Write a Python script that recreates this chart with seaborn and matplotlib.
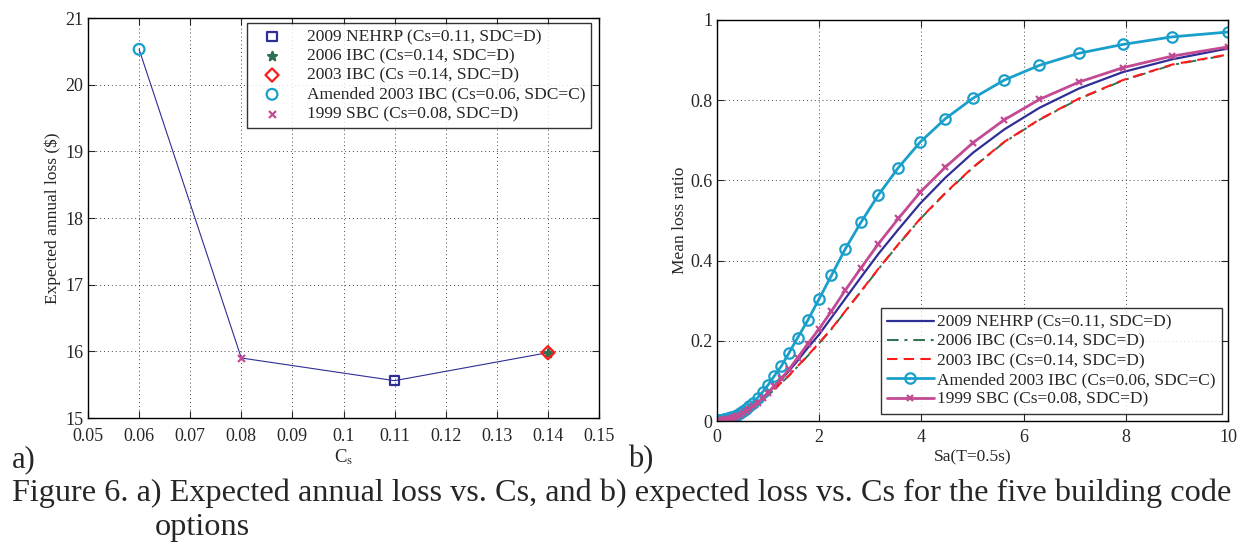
import numpy as np
import pandas as pd
import matplotlib
matplotlib.use("Agg")
import matplotlib.pyplot as plt
import seaborn as sns

# ---- data: panel a) expected annual loss vs Cs ----
codes = ["2009 NEHRP (Cs=0.11, SDC=D)", "2006 IBC (Cs=0.14, SDC=D)",
         "2003 IBC (Cs =0.14, SDC=D)", "Amended 2003 IBC (Cs=0.06, SDC=C)",
         "1999 SBC (Cs=0.08, SDC=D)"]
cs_values = [0.11, 0.14, 0.14, 0.06, 0.08]
eal_values = [15.56, 15.98, 15.98, 20.53, 15.90]
line_cs = [0.06, 0.08, 0.11, 0.14]
line_eal = [20.53, 15.90, 15.56, 15.98]

# ---- data: panel b) mean loss ratio vs Sa ----
sa = [0.01, 0.02, 0.03, 0.05, 0.07,
      0.100, 0.112, 0.126, 0.141, 0.158, 0.178, 0.200, 0.224, 0.251, 0.282,
      0.316, 0.355, 0.398, 0.447, 0.501, 0.562, 0.631, 0.708, 0.794, 0.891,
      1.00, 1.12, 1.26, 1.41, 1.58, 1.78, 2.00, 2.24, 2.51, 2.82,
      3.16, 3.55, 3.98, 4.47, 5.01, 5.62, 6.31, 7.08, 7.94, 8.91, 10.0]
mlr_nehrp = [0.0, 0.0, 0.0, 0.0, 0.0,
             0.001, 0.001, 0.001, 0.002, 0.002, 0.003, 0.003, 0.004, 0.005, 0.006,
             0.008, 0.010, 0.012, 0.015, 0.019, 0.024, 0.030, 0.037, 0.046, 0.057,
             0.071, 0.086, 0.104, 0.125, 0.151, 0.183, 0.216, 0.258, 0.305, 0.359,
             0.417, 0.478, 0.543, 0.607, 0.669, 0.727, 0.781, 0.829, 0.870, 0.902, 0.929]
mlr_ibc2006 = [0.0, 0.0, 0.0, 0.0, 0.0,
               0.001, 0.001, 0.001, 0.002, 0.002, 0.003, 0.003, 0.004, 0.005, 0.006,
               0.007, 0.009, 0.011, 0.014, 0.018, 0.022, 0.027, 0.034, 0.042, 0.052,
               0.064, 0.078, 0.095, 0.113, 0.136, 0.163, 0.194, 0.229, 0.273, 0.323,
               0.379, 0.440, 0.504, 0.568, 0.632, 0.695, 0.751, 0.803, 0.849, 0.888, 0.913]
mlr_ibc2003 = [0.0, 0.0, 0.0, 0.0, 0.0,
               0.001, 0.001, 0.001, 0.002, 0.002, 0.003, 0.003, 0.004, 0.005, 0.006,
               0.007, 0.009, 0.011, 0.014, 0.018, 0.022, 0.027, 0.034, 0.042, 0.053,
               0.065, 0.079, 0.096, 0.114, 0.137, 0.164, 0.195, 0.230, 0.274, 0.324,
               0.380, 0.441, 0.505, 0.569, 0.633, 0.696, 0.752, 0.804, 0.850, 0.889, 0.914]
mlr_amended = [0.002, 0.002, 0.002, 0.002, 0.002,
               0.003, 0.003, 0.003, 0.004, 0.004, 0.005, 0.006, 0.007, 0.008, 0.009,
               0.011, 0.013, 0.016, 0.020, 0.025, 0.030, 0.037, 0.046, 0.058, 0.072,
               0.090, 0.112, 0.137, 0.170, 0.208, 0.252, 0.305, 0.363, 0.429, 0.496,
               0.564, 0.632, 0.696, 0.754, 0.805, 0.850, 0.887, 0.917, 0.939, 0.958, 0.970]
mlr_sbc = [0.001, 0.001, 0.001, 0.001, 0.001,
           0.002, 0.002, 0.002, 0.002, 0.003, 0.003, 0.004, 0.004, 0.005, 0.006,
           0.008, 0.010, 0.012, 0.015, 0.019, 0.024, 0.030, 0.037, 0.046, 0.057,
           0.071, 0.087, 0.106, 0.129, 0.158, 0.193, 0.230, 0.274, 0.326, 0.382,
           0.442, 0.505, 0.571, 0.633, 0.694, 0.751, 0.802, 0.845, 0.881, 0.910, 0.933]
curve_labels = ["2009 NEHRP (Cs=0.11, SDC=D)", "2006 IBC (Cs=0.14, SDC=D)",
                "2003 IBC (Cs=0.14, SDC=D)", "Amended 2003 IBC (Cs=0.06, SDC=C)",
                "1999 SBC (Cs=0.08, SDC=D)"]

colors = ["#2e2e96", "#2f7050", "#ff1a1a", "#1a9fcb", "#c24b93"]

sns.set_style("ticks")
plt.rcParams["font.family"] = ["Liberation Serif", "DejaVu Serif"]
plt.rcParams["mathtext.fontset"] = "stix"
plt.rcParams["xtick.direction"] = "in"
plt.rcParams["ytick.direction"] = "in"

W, H = 1240, 548
fig = plt.figure(figsize=(W / 100, H / 100), dpi=100)
ax1 = fig.add_axes([88 / W, 1 - 418 / H, 511 / W, 400 / H])
ax2 = fig.add_axes([717 / W, 1 - 421 / H, 511 / W, 401 / H])

# ---- panel a ----
sns.lineplot(x=line_cs, y=line_eal, ax=ax1, color=colors[0], lw=0.8,
             sort=False, estimator=None, legend=False)
marker_a = ["s", "*", "D", "o", "x"]
sizes_a = [45, 45, 45, 60, 25]
handles_a = {}
for i in [0, 4, 3, 1, 2]:
    m = marker_a[i]
    if m in ("*", "x"):
        h = ax1.scatter([cs_values[i]], [eal_values[i]], marker=m, s=sizes_a[i],
                        color=colors[i], linewidths=1.6, zorder=3)
    else:
        h = ax1.scatter([cs_values[i]], [eal_values[i]], marker=m, s=sizes_a[i],
                        facecolors="none", edgecolors=colors[i], linewidths=1.6,
                        zorder=3)
    handles_a[i] = h
ax1.set_xlim(0.05, 0.15)
ax1.set_ylim(15, 21)
ax1.set_xticks(np.arange(0.05, 0.151, 0.01))
ax1.set_xticklabels(["0.05", "0.06", "0.07", "0.08", "0.09", "0.1", "0.11",
                     "0.12", "0.13", "0.14", "0.15"])
ax1.set_yticks(range(15, 22))
ax1.set_xlabel(r"C$_{\rm s}$", fontsize=13.5, labelpad=1)
ax1.set_ylabel("Expected annual loss ($)", fontsize=12.5, labelpad=3)
leg1 = ax1.legend([handles_a[i] for i in range(5)], codes, loc="upper right",
                  fontsize=12.5, frameon=True, fancybox=False, edgecolor="black",
                  bbox_to_anchor=(0.985, 0.988), borderaxespad=0.0,
                  handletextpad=0.9, labelspacing=0.18, borderpad=0.35,
                  handlelength=2.2, scatterpoints=1)
leg1.get_frame().set_linewidth(1.0)

# ---- panel b ----
df = pd.DataFrame({"sa": sa, "nehrp": mlr_nehrp, "ibc2006": mlr_ibc2006,
                   "ibc2003": mlr_ibc2003, "amended": mlr_amended, "sbc": mlr_sbc})
cols = ["nehrp", "ibc2006", "ibc2003", "amended", "sbc"]
styles = [dict(ls="-", lw=1.6), dict(ls=(0, (6, 3, 1.5, 3)), lw=1.4),
          dict(ls=(0, (5, 3)), lw=1.5),
          dict(ls="-", lw=2.0, marker="o", ms=7.5, mfc="none", mew=1.6),
          dict(ls="-", lw=2.0, marker="x", ms=4.5, mew=1.6)]
for c, lab, col, st in zip(cols, curve_labels, colors, styles):
    sns.lineplot(data=df, x="sa", y=c, ax=ax2, color=col, label=lab,
                 estimator=None, mec=col, **st)
ax2.set_xlim(0, 10)
ax2.set_ylim(0, 1)
ax2.set_xticks(range(0, 11, 2))
ax2.set_yticks([0, 0.2, 0.4, 0.6, 0.8, 1.0])
ax2.set_yticklabels(["0", "0.2", "0.4", "0.6", "0.8", "1"])
ax2.set_xlabel("Sa(T=0.5s)", fontsize=12.5, labelpad=3)
ax2.set_ylabel("Mean loss ratio", fontsize=12.5, labelpad=1)
leg2 = ax2.legend(loc="lower right", fontsize=12.5, frameon=True, fancybox=False,
                  edgecolor="black", bbox_to_anchor=(0.988, 0.018),
                  borderaxespad=0.0, handletextpad=0.2,
                  labelspacing=0.18, borderpad=0.35, handlelength=2.7)
leg2.get_frame().set_linewidth(1.0)

for ax in (ax1, ax2):
    ax.grid(True, ls=(0, (1, 3)), color="#444444", lw=0.7)
    ax.tick_params(labelsize=13, length=5, top=True, right=True, width=0.8)
    ax.tick_params(axis="y", pad=3.5)
    for s in ax.spines.values():
        s.set_linewidth(1.0)
        s.set_color("black")
ax1.tick_params(axis="x", pad=7.5)
ax2.tick_params(axis="x", pad=5.5)

fig.text(12 / W, 1 - 460 / H, "a)", fontsize=22, va="center", ha="left")
fig.text(628 / W, 1 - 460 / H, "b)", fontsize=22, va="center", ha="left")
fig.text(12 / W, 1 - 493 / H,
         "Figure 6. a) Expected annual loss vs. Cs, and b) expected loss vs. Cs for the five building code",
         fontsize=23.2, va="center", ha="left")
fig.text(155 / W, 1 - 527 / H, "options", fontsize=23.2, va="center", ha="left")

fig.savefig("out.png", dpi=100)
